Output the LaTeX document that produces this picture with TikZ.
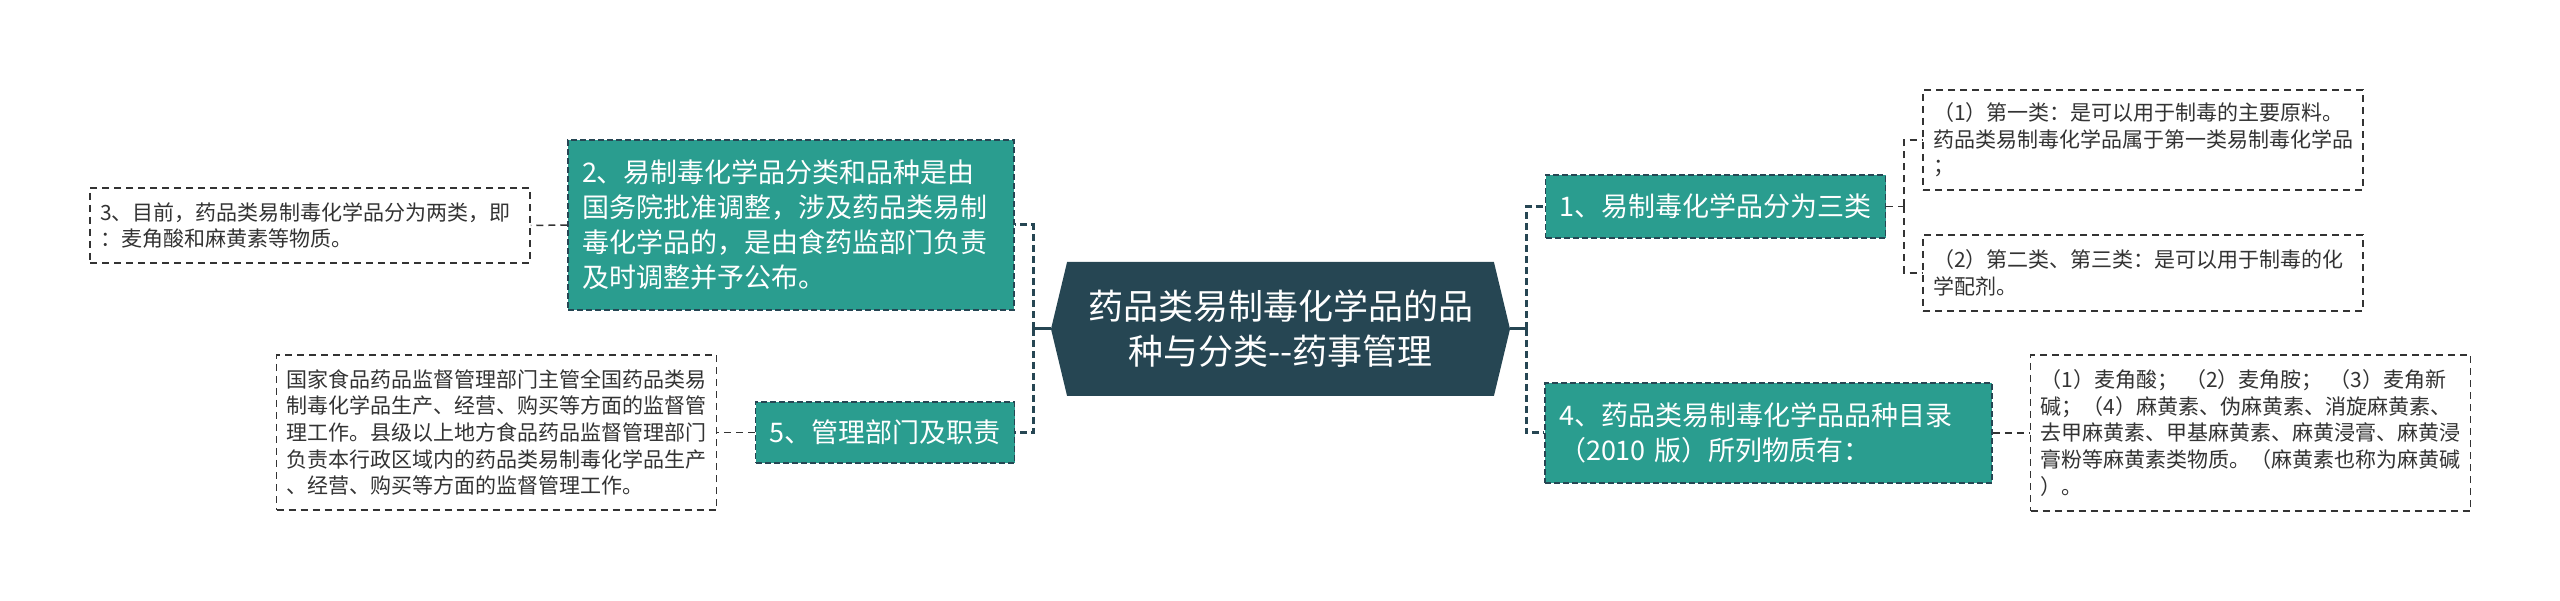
\documentclass[tikz,border=0pt]{standalone}
\usepackage{fontspec}
\newfontfamily\cjk{Noto Sans CJK SC}
\usetikzlibrary{shapes.symbols}
\definecolor{rootc}{HTML}{264653}
\definecolor{mainc}{HTML}{2A9D8F}
\definecolor{leafline}{HTML}{333333}
\definecolor{leaftext}{HTML}{333333}
\begin{document}
\begin{tikzpicture}[x=1pt,y=-1pt,
    rootnode/.style={signal,signal to=west and east,signal pointer angle=153,fill=rootc,text=white,align=center,
      font=\cjk\fontsize{35pt}{45pt}\selectfont,minimum width=459pt,minimum height=134pt,inner sep=0pt},
    mainnode/.style={fill=mainc,draw=rootc,line width=1.5pt,dash pattern=on 6pt off 3pt,text=white,
      font=\cjk\fontsize{27pt}{35pt}\selectfont,inner xsep=14pt},
    leafnode/.style={fill=white,draw=leafline,line width=1.5pt,dash pattern=on 7pt off 5pt,text=leaftext,
      font=\cjk\fontsize{21pt}{26.7pt}\selectfont,text width=420pt,align=left,inner xsep=10pt,minimum width=440pt},
    trunk/.style={rootc,line width=3pt,dash pattern=on 7pt off 4pt},
    stub/.style={rootc,line width=3pt},
    twig/.style={leafline,line width=1.5pt,dash pattern=on 7pt off 5pt}]
    \useasboundingbox (0,0) rectangle (2560,601);

    \node[rootnode] (root) at (1280.5,329) {药品类易制毒化学品的品\\种与分类--药事管理};

    \node[mainnode,minimum width=339pt,minimum height=63pt] (b1) at (1715.5,206.5) {1、易制毒化学品分为三类};
    \node[mainnode,text width=418pt,align=left,minimum height=170pt] (b2) at (791,225)
      {2、易制毒化学品分类和品种是由\\国务院批准调整，涉及药品类易制\\毒化学品的，是由食药监部门负责\\及时调整并予公布。};
    \node[mainnode,text width=419pt,align=left,minimum height=100pt] (b4) at (1768.5,433)
      {4、药品类易制毒化学品品种目录\\（2010 版）所列物质有：};
    \node[mainnode,minimum width=258pt,minimum height=61pt] (b5) at (885,432.5) {5、管理部门及职责};

    \node[leafnode,minimum height=100pt] (c11) at (2143,140)
      {（1）第一类：是可以用于制毒的主要原料。\\药品类易制毒化学品属于第一类易制毒化学品\\；};
    \node[leafnode,minimum height=76pt] (c12) at (2143,273)
      {（2）第二类、第三类：是可以用于制毒的化\\学配剂。};
    \node[leafnode,minimum height=75pt] (c3) at (310,225.5)
      {3、目前，药品类易制毒化学品分为两类，即\\：麦角酸和麻黄素等物质。};
    \node[leafnode,minimum height=156pt] (c4) at (2250.5,433)
      {（1）麦角酸； （2）麦角胺； （3）麦角新\\碱；（4）麻黄素、伪麻黄素、消旋麻黄素、\\去甲麻黄素、甲基麻黄素、麻黄浸膏、麻黄浸\\膏粉等麻黄素类物质。（麻黄素也称为麻黄碱\\）。};
    \node[leafnode,minimum height=155pt] (c5) at (496.5,432.5)
      {国家食品药品监督管理部门主管全国药品类易\\制毒化学品生产、经营、购买等方面的监督管\\理工作。县级以上地方食品药品监督管理部门\\负责本行政区域内的药品类易制毒化学品生产\\、经营、购买等方面的监督管理工作。};

    \coordinate (lt) at (1033,329);
    \coordinate (rt) at (1526,329);
    \coordinate (s1) at (1904,206.5);

    \draw[stub] (root.west) -- (lt);
    \draw[stub] (root.east) -- (rt);
    \foreach \t in {b2.east,b5.east} \draw[trunk] (lt) |- (\t);
    \foreach \t in {b1.west,b4.west} \draw[trunk] (rt) |- (\t);
    \foreach \t in {c11.west,c12.west} \draw[twig] (s1) |- (\t);
    \foreach \s/\t in {b1.east/s1,b4.east/c4.west,b2.west/c3.east,b5.west/c5.east} \draw[twig] (\s) -- (\t);
\end{tikzpicture}
\end{document}
